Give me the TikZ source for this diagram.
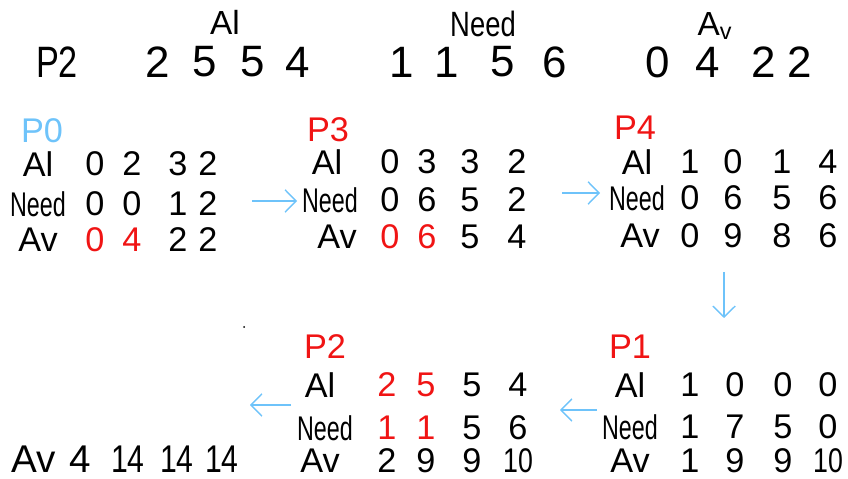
\documentclass[tikz,border=0pt]{standalone}
\usepackage{fontspec}
\setmainfont{Liberation Sans}
\newfontfamily\angosta[FakeStretch=0.68]{Liberation Sans}
\newfontfamily\estrecha[FakeStretch=0.78]{Liberation Sans}
\usetikzlibrary{arrows.meta}
\definecolor{celeste}{RGB}{110,195,250}
\definecolor{rojo}{RGB}{240,20,20}

\begin{document}
\begin{tikzpicture}[x=0.02cm, y=-0.02cm,
        num/.style={inner sep=0pt, font=\fontsize{19.5}{22}\selectfont},
        rot/.style={num, text=rojo},
        need/.style={inner sep=0pt, font={\angosta\fontsize{19.5}{22}\selectfont}},
        diez/.style={inner sep=0pt, font={\estrecha\fontsize{19.5}{22}\selectfont}},
        tope/.style={inner sep=0pt, font=\fontsize{25}{28}\selectfont},
        cab/.style={inner sep=0pt, font=\fontsize{19}{21}\selectfont},
        fin/.style={inner sep=0pt, font=\fontsize{22}{24}\selectfont},
        finc/.style={inner sep=0pt, font={\estrecha\fontsize{22}{24}\selectfont}},
        flecha/.style={celeste, line width=0.8pt, -{Straight Barb[length=2.2mm, width=4.5mm]}}]
            \useasboundingbox (0,0) rectangle (848,479);
            % cabecera
            \node[cab] (hal) at (225,22) {Al};
            \node[cab, font={\estrecha\fontsize{20}{22}\selectfont}] (hneed) at (483,24) {Need};
            \node[cab] (hav) at (715,26) {A\textsubscript{v}};
            \node[tope, font={\estrecha\fontsize{25}{28}\selectfont}] (tp2) at (57,62) {P2};
            \node[tope] (t1) at (158,62) {2}; \node[tope] (t2) at (205,62) {5};
            \node[tope] (t3) at (253,62) {5}; \node[tope] (t4) at (298,62) {4};
            \node[tope] (t5) at (402,62) {1}; \node[tope] (t6) at (447,62) {1};
            \node[tope] (t7) at (503,62) {5}; \node[tope] (t8) at (555,62) {6};
            \node[tope] (t9) at (658,62) {0}; \node[tope] (t10) at (708,62) {4};
            \node[tope] (t11) at (764,62) {2}; \node[tope] (t12) at (800,62) {2};
            % P0
            \node[num, text=celeste] (p0) at (42,131) {P0};
            \node[num] (p0al) at (38,164) {Al};
            \node[need] (p0need) at (38,204) {Need};
            \node[num] (p0av) at (38,240) {Av};
            \node[num] (p0al1) at (95,164) {0}; \node[num] (p0al2) at (132,164) {2};
            \node[num] (p0al3) at (178,164) {3}; \node[num] (p0al4) at (208,164) {2};
            \node[num] (p0ne1) at (95,204) {0}; \node[num] (p0ne2) at (132,204) {0};
            \node[num] (p0ne3) at (178,204) {1}; \node[num] (p0ne4) at (208,204) {2};
            \node[rot] (p0av1) at (95,240) {0}; \node[rot] (p0av2) at (132,240) {4};
            \node[num] (p0av3) at (178,240) {2}; \node[num] (p0av4) at (208,240) {2};
            % P3
            \node[num, text=rojo] (p3) at (328,130) {P3};
            \node[num] (p3al) at (327,162) {Al};
            \node[need] (p3need) at (330,200) {Need};
            \node[num] (p3av) at (337,237) {Av};
            \node[num] (p3al1) at (390,162) {0}; \node[num] (p3al2) at (427,162) {3};
            \node[num] (p3al3) at (470,162) {3}; \node[num] (p3al4) at (517,162) {2};
            \node[num] (p3ne1) at (390,200) {0}; \node[num] (p3ne2) at (427,200) {6};
            \node[num] (p3ne3) at (470,200) {5}; \node[num] (p3ne4) at (517,200) {2};
            \node[rot] (p3av1) at (390,237) {0}; \node[rot] (p3av2) at (427,237) {6};
            \node[num] (p3av3) at (470,237) {5}; \node[num] (p3av4) at (517,237) {4};
            % P4
            \node[num, text=rojo] (p4) at (635,128) {P4};
            \node[num] (p4al) at (637,162) {Al};
            \node[need] (p4need) at (637,198) {Need};
            \node[num] (p4av) at (640,236) {Av};
            \node[num] (p4al1) at (690,162) {1}; \node[num] (p4al2) at (733,162) {0};
            \node[num] (p4al3) at (782,162) {1}; \node[num] (p4al4) at (828,162) {4};
            \node[num] (p4ne1) at (690,198) {0}; \node[num] (p4ne2) at (733,198) {6};
            \node[num] (p4ne3) at (782,198) {5}; \node[num] (p4ne4) at (828,198) {6};
            \node[num] (p4av1) at (690,236) {0}; \node[num] (p4av2) at (733,236) {9};
            \node[num] (p4av3) at (782,236) {8}; \node[num] (p4av4) at (828,236) {6};
            % P1
            \node[num, text=rojo] (p1) at (630,347) {P1};
            \node[num] (p1al) at (630,385) {Al};
            \node[need] (p1need) at (630,427) {Need};
            \node[num] (p1av) at (630,461) {Av};
            \node[num] (p1al1) at (690,385) {1}; \node[num] (p1al2) at (735,385) {0};
            \node[num] (p1al3) at (783,385) {0}; \node[num] (p1al4) at (828,385) {0};
            \node[num] (p1ne1) at (690,427) {1}; \node[num] (p1ne2) at (735,427) {7};
            \node[num] (p1ne3) at (783,427) {5}; \node[num] (p1ne4) at (828,427) {0};
            \node[num] (p1av1) at (690,461) {1}; \node[num] (p1av2) at (735,461) {9};
            \node[num] (p1av3) at (783,461) {9}; \node[diez] (p1av4) at (828,461) {10};
            % P2
            \node[num, text=rojo] (p2) at (325,347) {P2};
            \node[num] (p2al) at (320,385) {Al};
            \node[need] (p2need) at (325,428) {Need};
            \node[num] (p2av) at (320,461) {Av};
            \node[rot] (p2al1) at (387,385) {2}; \node[rot] (p2al2) at (426,385) {5};
            \node[num] (p2al3) at (472,385) {5}; \node[num] (p2al4) at (518,385) {4};
            \node[rot] (p2ne1) at (387,428) {1}; \node[rot] (p2ne2) at (426,428) {1};
            \node[num] (p2ne3) at (472,428) {5}; \node[num] (p2ne4) at (518,428) {6};
            \node[num] (p2av1) at (387,461) {2}; \node[num] (p2av2) at (426,461) {9};
            \node[num] (p2av3) at (472,461) {9}; \node[diez] (p2av4) at (518,461) {10};
            % final
            \node[fin] (fav) at (34,459) {Av};
            \node[fin] (fav1) at (80,459) {4}; \node[finc] (fav2) at (128,459) {14};
            \node[finc] (fav3) at (177,459) {14}; \node[finc] (fav4) at (222,459) {14};
            \fill (244,327) circle (1); % punto
            % flechas
            \coordinate (f1a) at (252,201); \coordinate (f1b) at (297,201);
            \coordinate (f2a) at (562,193); \coordinate (f2b) at (600,193);
            \coordinate (f3a) at (724,272); \coordinate (f3b) at (724,318);
            \coordinate (f4a) at (597,410); \coordinate (f4b) at (560,410);
            \coordinate (f5a) at (291,405); \coordinate (f5b) at (250,405);
            \draw[flecha] (f1a) -- (f1b); % P0 -> P3
            \draw[flecha] (f2a) -- (f2b); % P3 -> P4
            \draw[flecha] (f3a) -- (f3b); % P4 -> P1
            \draw[flecha] (f4a) -- (f4b); % P1 -> P2
            \draw[flecha] (f5a) -- (f5b); % P2 -> fin
        \end{tikzpicture}
\end{document}
